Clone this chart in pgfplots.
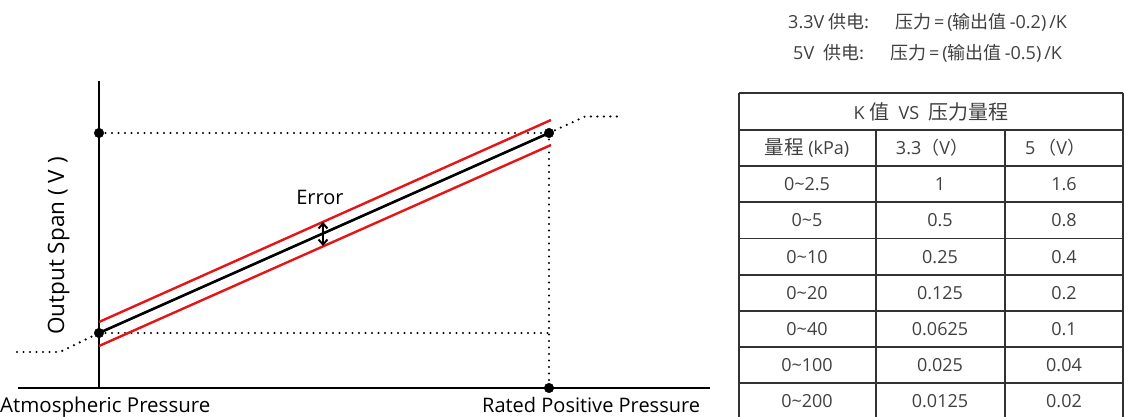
\documentclass[border=0pt]{standalone}
\usepackage{pgfplots}
\pgfplotsset{compat=1.18}
\usepackage{fontspec}
\setmainfont{Open Sans}
\newfontfamily\cjk{Noto Sans CJK SC}
\usetikzlibrary{arrows.meta}

\definecolor{errred}{RGB}{230,20,20}
\definecolor{tabline}{RGB}{50,50,50}
\definecolor{tabtext}{RGB}{64,64,64}

\begin{document}
\begin{tikzpicture}[
    dotline/.style={black, line width=2.4pt, line cap=round, dash pattern=on 0pt off 6.5pt},
    tl/.style={tabline, line width=1.4pt},
]
\path[use as bounding box] (0,0) rectangle (1124pt,417pt);
\begin{axis}[
    at={(0,0)}, anchor=south west,
    scale only axis, width=1124pt, height=417pt,
    xmin=0, xmax=1124, ymin=0, ymax=417,
    y dir=reverse,
    axis lines=none, clip=false,
]
% axes of the diagram
\addplot[black, line width=2.4pt] coordinates {(99,81) (99,388)};
\addplot[black, line width=2.4pt] coordinates {(18,388) (710,388)};

% dotted guides
\addplot[dotline] coordinates {(99,133) (549,133)};
\addplot[dotline] coordinates {(99,333) (549,333)};
\addplot[dotline] coordinates {(549,133) (549,388)};
\addplot[dotline] coordinates {(17,352) (60,352) (99,333)};
\addplot[dotline] coordinates {(549,133) (585,116.5) (620,116.5)};

% output line and error band
\addplot[errred, line width=2.4pt] coordinates {(99,322) (551,120)};
\addplot[errred, line width=2.4pt] coordinates {(99,346) (551,145)};
\addplot[black, line width=2.6pt] coordinates {(99,333) (549,133)};

% end points
\addplot[only marks, mark=*, mark size=4.8pt, black] coordinates {
    (99,133) (99,333) (549,133) (549,388)};

% error arrow
\draw[black, line width=2pt, {Straight Barb[length=5pt,width=9pt]}-{Straight Barb[length=5pt,width=9pt]}]
    (323,222) -- (323,246);
\node[font=\fontsize{20}{24}\selectfont] at (320,197) {Error};

% labels
\node[rotate=90, anchor=base, font=\fontsize{22.5}{26}\selectfont] at (64,246) {Output Span ( V )};
\node[anchor=base west, font=\fontsize{20.5}{24}\selectfont, inner sep=0pt] at (0,412) {Atmospheric Pressure};
\node[anchor=base west, font=\fontsize{20}{24}\selectfont, inner sep=0pt] at (482,412) {Rated Positive Pressure};

% formulas
\begin{scope}[every node/.style={font=\fontsize{18}{21}\selectfont, text=tabtext, inner sep=0pt, anchor=base west}]
\node at (788,28.5) {3.3V {\cjk 供电:}};
\node at (895,28.5) {{\cjk 压力}\,=\,({\cjk 输出值}\,-0.2)\,/K};
\node at (793,59.5) {5V\ \ {\cjk 供电:}};
\node at (890,59.5) {{\cjk 压力}\,=\,({\cjk 输出值}\,-0.5)\,/K};
\end{scope}

% table
\draw[tl] (739,93) -- (1123,93);
\draw[tl] (739,130) -- (1123,130);
\draw[tl] (739,166) -- (1123,166);
\draw[tl] (739,202) -- (1123,202);
\draw[tl] (739,238.5) -- (1123,238.5);
\draw[tl] (739,275) -- (1123,275);
\draw[tl] (739,311) -- (1123,311);
\draw[tl] (739,347) -- (1123,347);
\draw[tl] (739,383) -- (1123,383);
\draw[tl] (739,93) -- (739,420);
\draw[tl] (1123,93) -- (1123,420);
\draw[tl] (876,130) -- (876,420);
\draw[tl] (1005,130) -- (1005,420);

\begin{scope}[every node/.style={font=\fontsize{18}{22}\selectfont, text=tabtext}]
\node at (931,111.5) {K {\cjk\fontsize{20}{24}\selectfont 值}\ \ VS\ \ {\cjk\fontsize{20}{24}\selectfont 压力量程}};
\node at (807,148) {{\cjk\fontsize{19.5}{24}\selectfont 量程}\ (kPa)};
\node at (932,148) {3.3{\cjk （}V{\cjk ）}};
\node at (1055,148) {5\,{\cjk （}V{\cjk ）}};
\node at (807,184) {0\textasciitilde2.5};   \node at (940,184) {1};      \node at (1064,184) {1.6};
\node at (807,220) {0\textasciitilde5};     \node at (940,220) {0.5};    \node at (1064,220) {0.8};
\node at (807,257) {0\textasciitilde10};    \node at (940,257) {0.25};   \node at (1064,257) {0.4};
\node at (807,293) {0\textasciitilde20};    \node at (940,293) {0.125};  \node at (1064,293) {0.2};
\node at (807,329) {0\textasciitilde40};    \node at (940,329) {0.0625}; \node at (1064,329) {0.1};
\node at (807,365) {0\textasciitilde100};   \node at (940,365) {0.025};  \node at (1064,365) {0.04};
\node at (807,401) {0\textasciitilde200};   \node at (940,401) {0.0125}; \node at (1064,401) {0.02};
\end{scope}
\end{axis}
\end{tikzpicture}
\end{document}
